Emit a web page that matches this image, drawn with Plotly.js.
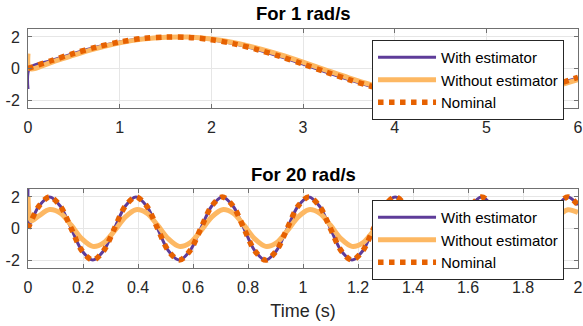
<!DOCTYPE html>
<html>
<head>
<meta charset="utf-8">
<script src="https://cdn.plot.ly/plotly-3.0.1.min.js"></script>
<style>html,body{margin:0;padding:0;background:#fff;}#chart{width:583px;height:326px;}</style>
</head>
<body>
<div id="chart"></div>
<script>
// ---- Data ----
const seriesNames = ['With estimator', 'Without estimator', 'Nominal'];
const panelTitles = ['For 1 rad/s', 'For 20 rad/s'];
const xLabel = 'Time (s)';
const yTickVals = [-2, 0, 2];
const yTickText = ['-2', '0', '2'];

// Top panel: 1 rad/s
const tTop = [0, 0.02, 0.25, 0.5, 0.75, 1.0, 1.25, 1.5, 1.75, 2.0, 2.25, 2.5, 2.75, 3.0,
  3.25, 3.5, 3.75, 4.0, 4.25, 4.5, 4.75, 5.0, 5.25, 5.5, 5.75, 6.0];
const topWith = [-1.3, 0.04, 0.49, 0.96, 1.36, 1.68, 1.90, 1.99, 1.97, 1.82, 1.56, 1.20, 0.76, 0.28,
  -0.22, -0.70, -1.14, -1.51, -1.79, -1.96, -2.00, -1.92, -1.72, -1.41, -1.02, -0.60];
const topWithout = [0.95, 0.0, 0.38, 0.85, 1.27, 1.62, 1.86, 1.98, 1.99, 1.87, 1.63, 1.29, 0.87, 0.40,
  -0.10, -0.59, -1.04, -1.43, -1.73, -1.93, -2.00, -1.95, -1.77, -1.49, -1.12, -0.70];
const topNominal = [0, 0.04, 0.49, 0.96, 1.36, 1.68, 1.90, 1.99, 1.97, 1.82, 1.56, 1.20, 0.76, 0.28,
  -0.22, -0.70, -1.14, -1.51, -1.79, -1.96, -2.00, -1.92, -1.72, -1.41, -1.02, -0.56];

// Bottom panel: 20 rad/s
const tBot = [0, 0.004, 0.012, 0.0393, 0.0785, 0.1178, 0.1571, 0.1963, 0.2356, 0.2749, 0.3142,
  0.3534, 0.3927, 0.4320, 0.4712, 0.5105, 0.5498, 0.5890, 0.6283,
  0.6676, 0.7069, 0.7461, 0.7854, 0.8247, 0.8639, 0.9032, 0.9425,
  0.9817, 1.0210, 1.0603, 1.0996, 1.1388, 1.1781, 1.2174, 1.2566,
  1.2959, 1.3352, 1.3744, 1.4137, 1.4530, 1.4923, 1.5315, 1.5708,
  1.6101, 1.6493, 1.6886, 1.7279, 1.7671, 1.8064, 1.8457, 1.8850,
  1.9242, 1.9635, 2.0];
const botWith = [2.8, 0.2, 0.46, 1.41, 2, 1.41, 0, -1.41, -2, -1.41, 0,
  1.41, 2, 1.41, 0, -1.41, -2, -1.41, 0,
  1.41, 2, 1.41, 0, -1.41, -2, -1.41, 0,
  1.41, 2, 1.41, 0, -1.41, -2, -1.41, 0,
  1.41, 2, 1.41, 0, -1.41, -2, -1.41, 0,
  1.41, 2, 1.41, 0, -1.41, -2, -1.41, 0,
  1.41, 2, 1.49];
const botWithout = [2.0, 0.95, 0.48, 0.80, 1.20, 0.97, 0.21, -0.66, -1.13, -0.91, -0.15,
  0.72, 1.19, 0.97, 0.21, -0.66, -1.13, -0.91, -0.15,
  0.72, 1.19, 0.97, 0.21, -0.66, -1.13, -0.91, -0.15,
  0.72, 1.19, 0.97, 0.21, -0.66, -1.13, -0.91, -0.15,
  0.72, 1.19, 0.97, 0.21, -0.66, -1.13, -0.91, -0.15,
  0.72, 1.19, 0.97, 0.21, -0.66, -1.13, -0.91, -0.15,
  0.72, 1.19, 1.01];
const botNominal = [0, 0.16, 0.48, 1.41, 2, 1.41, 0, -1.41, -2, -1.41, 0,
  1.41, 2, 1.41, 0, -1.41, -2, -1.41, 0,
  1.41, 2, 1.41, 0, -1.41, -2, -1.41, 0,
  1.41, 2, 1.41, 0, -1.41, -2, -1.41, 0,
  1.41, 2, 1.41, 0, -1.41, -2, -1.41, 0,
  1.41, 2, 1.41, 0, -1.41, -2, -1.41, 0,
  1.41, 2, 1.49];

// ---- Styles ----
const cPurple = '#5e3c99', cLight = '#fdb863', cDark = '#e66101';
const FONT = 'Liberation Sans, Arial, Helvetica, sans-serif';
const TXT = '#262626';
const styles = [
  {color: cPurple, width: 3, dash: 'solid'},
  {color: cLight, width: 5, dash: 'solid'},
  {color: cDark, width: 5.5, dash: '5.5px,5.5px'}
];

function mk(x, y, i, xa, ya, lg) {
  return {x: x, y: y, type: 'scatter', mode: 'lines', name: seriesNames[i],
    line: {color: styles[i].color, width: styles[i].width, dash: styles[i].dash, shape: 'spline', smoothing: 0.9},
    xaxis: xa, yaxis: ya, legend: lg, hoverinfo: 'skip'};
}

const data = [
  mk(tTop, topWith, 0, 'x', 'y', 'legend'),
  mk(tTop, topWithout, 1, 'x', 'y', 'legend'),
  mk(tTop, topNominal, 2, 'x', 'y', 'legend'),
  mk(tBot, botWith, 0, 'x2', 'y2', 'legend2'),
  mk(tBot, botWithout, 1, 'x2', 'y2', 'legend2'),
  mk(tBot, botNominal, 2, 'x2', 'y2', 'legend2')
];

const axCommon = {
  showline: true, linecolor: '#707070', linewidth: 1, mirror: 'ticks',
  ticks: 'inside', ticklen: 4, tickcolor: '#707070', tickwidth: 1,
  showgrid: true, gridcolor: '#e6e6e6', gridwidth: 1, zeroline: false,
  tickfont: {family: FONT, size: 16, color: TXT}
};

const legCommon = {
  xanchor: 'left', yanchor: 'top', bgcolor: '#ffffff', bordercolor: '#262626', borderwidth: 1,
  font: {family: FONT, size: 15, color: '#000'}, itemwidth: 58, tracegroupgap: 0
};

const layout = {
  width: 583, height: 326,
  margin: {l: 28, r: 5, t: 29, b: 58},
  paper_bgcolor: '#ffffff', plot_bgcolor: '#ffffff',
  font: {family: FONT, color: TXT},
  showlegend: true,
  xaxis: Object.assign({}, axCommon, {domain: [0, 1], anchor: 'y', range: [0, 6], dtick: 1, tick0: 0, ticklabelstandoff: 5}),
  yaxis: Object.assign({}, axCommon, {domain: [0.6695, 1], anchor: 'x', range: [-2.5, 2.5], tickvals: yTickVals, ticktext: yTickText, ticklabelstandoff: 4}),
  xaxis2: Object.assign({}, axCommon, {domain: [0, 1], anchor: 'y2', range: [0, 2], dtick: 0.2, tick0: 0, ticklabelstandoff: 5,
    title: {text: xLabel, font: {family: FONT, size: 18, color: TXT}, standoff: 9}}),
  yaxis2: Object.assign({}, axCommon, {domain: [0, 0.3305], anchor: 'x2', range: [-2.5, 2.5], tickvals: yTickVals, ticktext: yTickText, ticklabelstandoff: 4}),
  legend: Object.assign({}, legCommon, {x: 0.6255, y: 0.954}),
  legend2: Object.assign({}, legCommon, {x: 0.6255, y: 0.2845}),
  annotations: [
    {text: '<b>' + panelTitles[0] + '</b>', xref: 'paper', yref: 'paper', x: 0.5, y: 1.0628, xanchor: 'center', yanchor: 'middle', showarrow: false, font: {family: FONT, size: 18.5, color: '#000'}},
    {text: '<b>' + panelTitles[1] + '</b>', xref: 'paper', yref: 'paper', x: 0.5, y: 0.3933, xanchor: 'center', yanchor: 'middle', showarrow: false, font: {family: FONT, size: 18.5, color: '#000'}}
  ]
};

Plotly.newPlot('chart', data, layout, {staticPlot: true, displayModeBar: false});
</script>
</body>
</html>
